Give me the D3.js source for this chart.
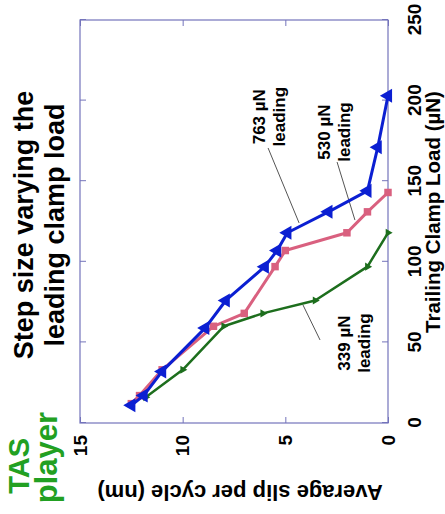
<!DOCTYPE html>
<html>
<head>
<meta charset="utf-8">
<script src="https://cdn.jsdelivr.net/npm/d3@7"></script>
<style>
  body { margin: 0; background: #fff; }
  text { font-family: "Liberation Sans", Arial, sans-serif; font-weight: bold; }
</style>
</head>
<body>
<script>
// Data (trailing clamp load in µN, average slip in nm)
const loadTicks = [0, 50, 100, 150, 200, 250]
const slipTicks = [0, 5, 10, 15]

const load763 = [11, 17, 32, 59, 76, 97, 107, 118, 131, 144, 171, 203]
const slip763 = [12.5, 11.9, 11.0, 8.9, 7.9, 6.0, 5.4, 4.9, 2.9, 1.0, 0.5, 0.0]

const load530 = [12, 17, 33, 60, 68, 97, 107, 118, 131, 143]
const slip530 = [12.5, 12.1, 11.0, 8.5, 7.0, 5.5, 5.0, 2.0, 1.0, 0.0]

const load339 = [16, 33, 60, 68, 76, 97, 118]
const slip339 = [11.8, 10.0, 8.0, 6.1, 3.55, 1.0, 0.0]

const labelLines = [["763 µN", "leading"], ["530 µN", "leading"], ["339 µN", "leading"]]
const labelLoad = [190, 180.5, 49.6]
const labelSlip = [6.0, 2.82, 1.85]
const leaderFrom = [[170.6, 5.84], [161.9, 2.48], [73.2, 4.14]]
const leaderTo = [[124.1, 4.33], [125.9, 1.61], [51.5, 3.31]]

const W = 514, H = 445   // the chart is drawn upright, then turned a quarter left
const frameColor = "#7474bb"

const svg = d3.select("body").append("svg")
    .attr("width", H)
    .attr("height", W)

const g = svg.append("g")
    .attr("transform", `translate(0,${W}) rotate(-90)`)

const x = d3.scaleLinear().domain([0, 250]).range([91, 494])
const y = d3.scaleLinear().domain([0, 15]).range([388, 80])

// title and the green words at the corner
const title = g.append("text")
    .attr("x", 289)
    .attr("font-size", 27)
    .attr("text-anchor", "middle")
    .attr("fill", "#000")
title.append("tspan").attr("x", 289).attr("y", 33).text("Step size varying the")
title.append("tspan").attr("x", 289).attr("y", 64).text("leading clamp load")

g.append("text")
    .attr("x", 76).attr("y", 29)
    .attr("text-anchor", "end")
    .attr("font-size", 29)
    .attr("fill", "#22a022")
    .text("TAS")
g.append("text")
    .attr("x", 102).attr("y", 57)
    .attr("text-anchor", "end")
    .attr("font-size", 31)
    .attr("fill", "#22a022")
    .text("player")

// axes, ticks point inward on all four sides
const styleAxis = (sel, fontSize) => {
    sel.select(".domain").remove()
    sel.selectAll(".tick line").attr("stroke", frameColor)
    sel.selectAll(".tick text").attr("fill", "#000").attr("font-size", fontSize)
        .style("font-family", "'Liberation Sans', Arial, sans-serif").style("font-weight", "bold")
}

g.append("g")
    .attr("transform", `translate(0,${y(0)})`)
    .call(d3.axisBottom(x).tickValues(loadTicks).tickSize(-6).tickPadding(20))
    .call(styleAxis, 19)
g.append("g")
    .attr("transform", `translate(0,${y(15)})`)
    .call(d3.axisTop(x).tickValues(loadTicks).tickSize(-6).tickFormat(""))
    .call(styleAxis, 19)
g.append("g")
    .attr("transform", `translate(${x(0)},0)`)
    .call(d3.axisLeft(y).tickValues(slipTicks).tickSize(-6).tickPadding(12))
    .call(styleAxis, 19)
g.append("g")
    .attr("transform", `translate(${x(250)},0)`)
    .call(d3.axisRight(y).tickValues(slipTicks).tickSize(-6).tickFormat(""))
    .call(styleAxis, 19)

g.append("rect")
    .attr("x", x(0)).attr("y", y(15))
    .attr("width", x(250) - x(0)).attr("height", y(0) - y(15))
    .attr("fill", "none")
    .attr("stroke", frameColor)
    .attr("stroke-width", 1.2)

// axis titles
g.append("text")
    .attr("x", 302).attr("y", 440)
    .attr("text-anchor", "middle")
    .attr("font-size", 20.5)
    .text("Trailing Clamp Load (µN)")
g.append("text")
    .attr("transform", `translate(29,240) rotate(-90)`)
    .attr("text-anchor", "middle")
    .attr("font-size", 22)
    .text("Average slip per cycle (nm)")

// leader lines and labels
g.append("g")
    .selectAll("line")
    .data(d3.range(leaderFrom.length))
    .join("line")
    .attr("x1", i => x(leaderFrom[i][0])).attr("y1", i => y(leaderFrom[i][1]))
    .attr("x2", i => x(leaderTo[i][0])).attr("y2", i => y(leaderTo[i][1]))
    .attr("stroke", "#555")
    .attr("stroke-width", 1)

labelLines.forEach((lines, i) => {
    const t = g.append("text")
        .attr("text-anchor", "middle")
        .attr("font-size", 17)
    lines.forEach((s, j) => {
        t.append("tspan")
            .attr("x", x(labelLoad[i]))
            .attr("y", y(labelSlip[i]) + j * 20)
            .text(s)
    })
})

// series
const series = [
    { load: load530, slip: slip530, color: "#d9607f", width: 3, symbol: d3.symbolSquare, size: 56, turn: 0 },
    { load: load339, slip: slip339, color: "#1d6e1d", width: 2.5, symbol: d3.symbolTriangle, size: 28, turn: 180 },
    { load: load763, slip: slip763, color: "#0b1fd2", width: 3, symbol: d3.symbolTriangle, size: 85, turn: 0 }
]

const line = d3.line()
    .x(d => x(d[0]))
    .y(d => y(d[1]))

series.forEach(s => {
    const pts = s.load.map((v, i) => [v, s.slip[i]])
    g.append("path")
        .datum(pts)
        .attr("fill", "none")
        .attr("stroke", s.color)
        .attr("stroke-width", s.width)
        .attr("stroke-linejoin", "round")
        .attr("d", line)
    g.append("g")
        .selectAll("path")
        .data(pts)
        .join("path")
        .attr("transform", d => `translate(${x(d[0])},${y(d[1])}) rotate(${s.turn})`)
        .attr("d", d3.symbol(s.symbol, s.size))
        .attr("fill", s.color)
})
</script>
</body>
</html>
